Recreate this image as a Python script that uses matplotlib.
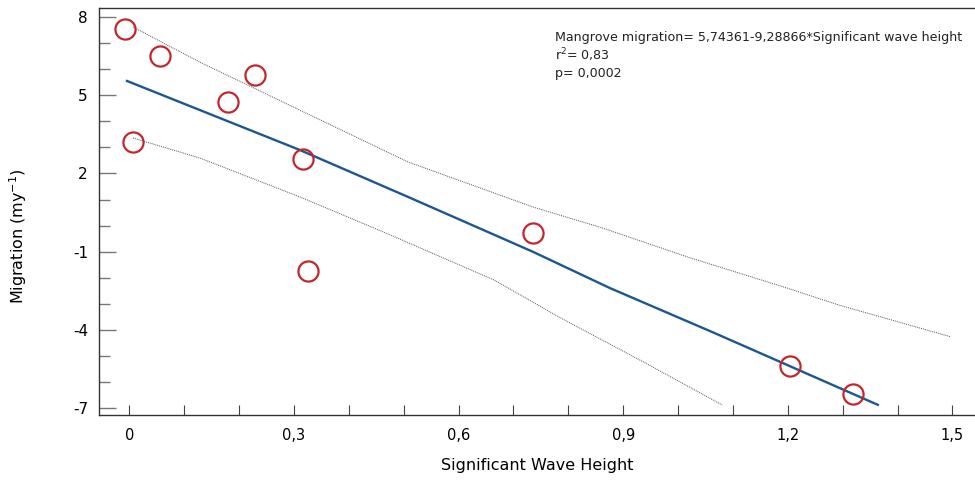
import matplotlib
matplotlib.use('Agg')
import matplotlib.pyplot as plt
from matplotlib.ticker import FixedLocator, MultipleLocator, FuncFormatter

# gözlenen noktalar (dalga yüksekliği, göç)
dalga = [-0.007, 0.056, 0.229, 0.180, 0.007, 0.316, 0.326, 0.736, 1.204, 1.319]
goc = [7.54, 6.50, 5.78, 4.74, 3.21, 2.55, -1.74, -0.29, -5.39, -6.46]

# regresyon çizgisi
fit_x = [-0.004, 0.311, 0.508, 0.736, 0.876, 1.066, 1.364]
fit_y = [5.55, 2.90, 1.10, -1.01, -2.40, -4.12, -6.88]

# güven bandı üst / alt
ust_x = [0.007, 0.129, 0.311, 0.508, 0.736, 0.862, 1.018, 1.199, 1.293, 1.497]
ust_y = [7.62, 6.27, 4.43, 2.44, 0.71, -0.09, -1.21, -2.40, -3.05, -4.27]
alt_x = [0.007, 0.129, 0.311, 0.468, 0.665, 0.783, 0.940, 1.080]
alt_y = [3.36, 2.59, 1.10, -0.29, -2.09, -3.51, -5.27, -6.88]

y_etiket = [8, 5, 2, -1, -4, -7]
y_ara = list(range(-7, 9))

denklem = ['Mangrove migration= 5,74361-9,28866*Significant wave height',
           'r$^2$= 0,83',
           'p= 0,0002']

fig = plt.figure(figsize=(9.75, 4.8), dpi=100)
ax = fig.add_axes([99 / 975, 65 / 480, 1 - 99 / 975, 407 / 480])

ax.plot(ust_x, ust_y, color='#555555', lw=0.7, ls=(0, (1, 1)))
ax.plot(alt_x, alt_y, color='#555555', lw=0.7, ls=(0, (1, 1)))
ax.plot(fit_x, fit_y, color='#1d5690', lw=1.7)
ax.plot(dalga, goc, 'o', ms=14.5, mfc='none', mec='#c1272d', mew=1.6)

ax.set_xlim(-0.055, 1.541)
ax.set_ylim(-7.27, 8.35)

for s in ['left', 'bottom', 'top']:
    ax.spines[s].set_color('#333333')
    ax.spines[s].set_linewidth(1.0)
ax.spines['right'].set_visible(False)

virgul = FuncFormatter(lambda v, p: ('%g' % round(v, 2)).replace('.', ','))
ax.xaxis.set_major_locator(MultipleLocator(0.3))
ax.xaxis.set_minor_locator(MultipleLocator(0.1))
ax.xaxis.set_major_formatter(virgul)
ax.yaxis.set_major_locator(FixedLocator(y_etiket))
ax.yaxis.set_minor_locator(FixedLocator([v for v in y_ara if v not in y_etiket]))
ax.yaxis.set_major_formatter(virgul)

ax.tick_params(axis='x', which='both', direction='in', length=7, width=0.8,
               color='#444444', labelsize=10.5, pad=9)
ax.tick_params(axis='y', which='major', direction='in', length=12, width=1.0,
               color='#777777', labelsize=11, pad=8)
ax.tick_params(axis='y', which='minor', direction='in', length=8, width=1.0,
               color='#777777')

ax.set_xlabel('Significant Wave Height', fontsize=11.5)
ax.set_ylabel('Migration (my$^{-1}$)', fontsize=11.5)
ax.yaxis.label.set_va('center')
ax.xaxis.label.set_va('center')
ax.yaxis.set_label_coords(-0.092, 0.44)
ax.xaxis.set_label_coords(0.5, -0.125)

for i, satir in enumerate(denklem):
    fig.text(555 / 975, 1 - (37 + 18 * i) / 480, satir, fontsize=9.1,
             va='center', ha='left', color='#222222')

fig.savefig('out.png', dpi=100)
